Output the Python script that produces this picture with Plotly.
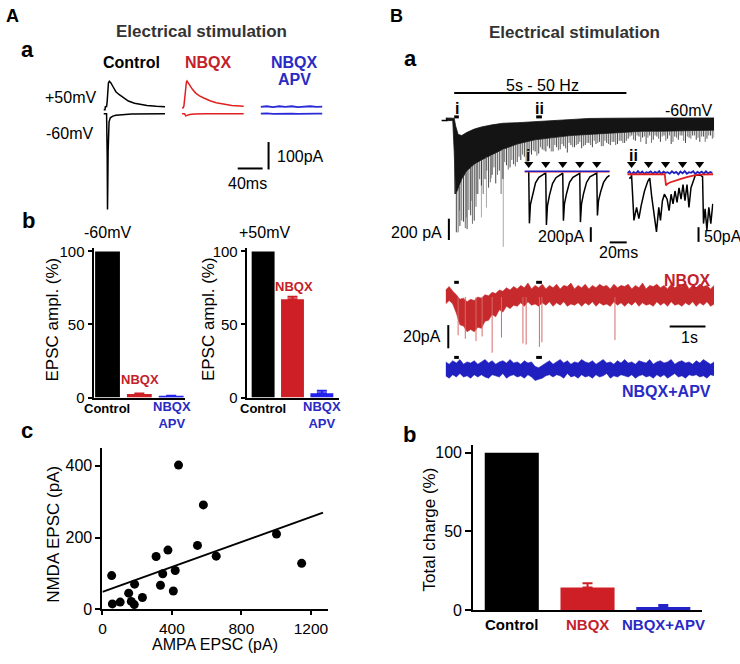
import plotly.graph_objects as go
import numpy as np

W, H = 740, 664
FONT = "Liberation Sans, Arial, Helvetica, sans-serif"
RED = "#cd1f25"
RED_TRACE = "#c62a2c"
RED_LIGHT = "#d86a6a"
BLUE = "#2323c8"
BLUE_BAR = "#2222ea"
BLUE_TRACE = "#2020c0"
RED_TEXT = "#c4212b"
BLUE_TEXT = "#2a2ac4"
GREY_TITLE = "#333333"

# ======================= DATA =======================
# A-a : example EPSCs (time ms, current pA relative to the -60 mV baseline)
CTRL_P50_T = [0, 2.5, 3, 5, 6, 7, 8, 9.5, 12, 15, 20, 25, 30, 40, 50, 60, 70, 85, 99]
CTRL_P50 = [14, 14, 25, 26, 45, 85, 112, 118, 112, 100, 80, 70, 62, 46, 38, 33, 30, 27, 25]
CTRL_M60_T = [0, 5, 6, 6.5, 7, 7.5, 8, 9, 11, 15, 20, 30, 45, 99]
CTRL_M60 = [0, 0, -150, -350, -260, -140, -70, -30, -15, -9, -6, -3, -1, 0]
NBQX_P50_T = [0, 2, 3, 4, 5, 6, 7, 8, 10, 13, 17, 22, 28, 35, 45, 55, 65, 80, 100]
NBQX_P50 = [22, 22, 28, 50, 80, 105, 115, 119, 112, 100, 88, 75, 65, 57, 47, 40, 35, 30, 27]
NBQX_M60_T = [0, 4, 6, 8, 12, 20, 40, 100]
NBQX_M60 = [0, 0, -8, -6, -3, -1, 0, 0]
APV_T = [0, 10, 20, 30, 40, 50, 60, 70, 80, 90, 100]
APV_P50 = [25, 27, 24, 27, 25, 27, 24, 26, 27, 25, 26]
APV_M60 = [0, 1, -1, 0, 1, 0, -1, 0, 1, 0, 0]

# A-b : normalised EPSC amplitude (%)
AB_CATS = ["Control", "NBQX", "NBQX APV"]
AB_M60 = [100, 2.5, 1.1]
AB_M60_ERR = [0, 0.3, 0.2]
AB_P50 = [100, 67.3, 2.9]
AB_P50_ERR = [0, 1.6, 1.8]

# c : NMDA vs AMPA EPSC (pA)
AMPA = [438, 581, 1002, 1147, 547, 655, 377, 309, 347, 419, 334, 408, 53, 185, 151, 230, 166, 183, 102, 57]
NMDA = [402, 291, 210, 128, 178, 148, 165, 147, 99, 108, 67, 51, 94, 70, 45, 33, 22, 13, 20, 15]
FIT_X = [0, 1270]

# B-a : 5 s - 50 Hz train (time s, current pA)
STIM_ON, STIM_OFF = 0.24, 5.05
WIN_I = [0.24, 0.37]
WIN_II = [2.53, 2.69]
GRID_T = [round(0.1 * k, 1) for k in range(76)]
GRID2_T = [round(0.05 + 0.1 * k, 2) for k in range(75)]
CORE_T = [0, 0.2, 0.24, 0.28, 0.35, 0.45, 0.6, 0.8, 1.0, 1.3, 1.6, 2.0, 2.5, 3.0, 3.5, 4.0,
          4.5, 5.0, 5.5, 6.0, 6.5, 7.0, 7.5]
CORE_HI = [15, 15, 12, -60, -140, -150, -120, -90, -70, -50, -35, -30, -20, -5, 5, 10,
           12, 15, 15, 15, 15, 15, 15]
CORE_LO = [-10, -10, -300, -700, -650, -560, -480, -420, -380, -330, -280, -230, -190, -170, -150, -140,
           -130, -120, -110, -110, -105, -100, -100]
CTRL_SPK = [-10, -15, -10, -1060, -1000, -960, -1030, -900, -950, -700,
            -620, -560, -640, -520, -600, -480, -560, -430, -450, -420,
            -400, -380, -350, -420, -330, -300, -320, -280, -300, -270,
            -300, -260, -280, -250, -310, -240, -260, -230, -270, -240,
            -220, -260, -230, -210, -250, -220, -240, -210, -230, -200,
            -220, -180, -150, -200, -160, -170, -230, -150, -190, -160,
            -210, -150, -180, -230, -160, -190, -150, -220, -170, -150,
            -190, -210, -160, -180, -150, -170]
CTRL_SPK2 = [-10, -12, -700, -1060, -950, -1020, -850, -980, -820, -560,
             -700, -480, -590, -450, -520, -700, -400, -470, -380, -440,
             -350, -330, -400, -310, -290, -340, -260, -290, -250, -300,
             -240, -290, -230, -270, -220, -260, -240, -210, -250, -220,
             -240, -200, -220, -250, -200, -230, -210, -240, -200, -220,
             -200, -160, -190, -150, -210, -160, -170, -220, -150, -180,
             -160, -200, -150, -210, -170, -150, -200, -160, -180, -150,
             -170, -160, -210, -150, -180]
LIGHT_T = [0.39, 0.58, 0.72, 0.86, 1.0, 1.14, 1.28, 1.61]
LIGHT_SPK = [-856, -920, -764, -700, -920, -828, -552, -1196]

# insets (time ms, current pA)
INSET_STIM = [5, 25, 45, 65, 85]
I_BLACK_T = [5, 5.8, 7, 9.5, 13, 17, 22, 25, 25.8, 27, 29.5, 33, 37, 42, 45, 45.8, 47, 49.5, 53, 57, 62,
             65, 65.8, 67, 69.5, 73, 77, 82, 85, 85.8, 87, 89.5, 93, 97, 100]
I_BLACK = [0, -707, -450, -307, -156, -80, -36, -20, -730, -470, -320, -165, -85, -40, -25, -670, -440,
           -300, -150, -80, -38, -25, -690, -450, -300, -150, -75, -35, -22, -600, -400, -280, -150, -80, -55]
I_RED_T = [0, 20, 40, 60, 80, 100]
I_RED = [-4, -3, -5, -3, -4, -3]
I_BLUE_T = [0, 25, 50, 75, 100]
I_BLUE = [1, 1, 0, 1, 1]
II_BLACK_T = [2, 4, 5, 7.8, 10.9, 13.6, 16.3, 20.2, 24.1, 26.4, 28.8, 31.1, 34.3, 37, 39, 41.3, 43.6,
              46.8, 49.1, 51.5, 53.8, 56.1, 58.5, 60.8, 63.2, 65.5, 67.8, 70.2, 72.5, 74.9, 77.2, 80,
              85.9, 88.5, 89.6, 91.5, 93.6, 95.9, 98.2, 100.5]
II_BLACK = [-15, -15, -5, -159, -115, -153, -109, -59, -26, -15, -81, -137, -198, -115, -159, -92, -70,
            -87, -126, -70, -103, -59, -98, -48, -87, -37, -92, -37, -115, -48, -26, -5,
            -5, -10, -170, -120, -192, -115, -170, -103]
II_RED_T = [0, 20, 44, 45.5, 47, 50, 52, 55, 60, 65, 70, 75, 80, 85, 90, 101]
II_RED = [-2, -1, -2, -40, -35, -30, -28, -24, -20, -16, -12, -8, -5, -3, -2, -2]
II_BLUE_T = [2.5 * k for k in range(41)]
II_BLUE = [2, 8, -2, 6, 0, 9, 1, 7, -1, 5, 3, 8, 0, 6, 2, 9, -1, 7, 3, 5, 0, 8, 2, 6, -2, 7, 1, 9, 0, 5,
           3, 8, -1, 6, 2, 7, 0, 8, 1, 6, 3]

# NBQX trace (pA), envelope per 0.1 s
RED_HI = [6, 9, 5, 2, -2, -1, -4, -2, -3, 0,
          -1, 2, 1, 4, 3, 6, 5, 8, 6, 9,
          7, 10, 8, 12, 7, 10, 8, 11, 7, 10,
          8, 11, 7, 10, 9, 12, 7, 10, 8, 11,
          7, 10, 8, 11, 9, 10, 7, 11, 8, 10,
          9, 11, 7, 10, 8, 12, 7, 10, 9, 11,
          8, 10, 7, 11, 8, 10, 9, 12, 7, 10,
          8, 11, 9, 10, 7, 10]
RED_LO = [-6, -3, -6, -14, -24, -25, -30, -28, -30, -26,
          -27, -21, -20, -15, -17, -11, -13, -8, -10, -7,
          -8, -5, -8, -4, -7, -6, -8, -5, -7, -4,
          -8, -5, -7, -4, -8, -6, -7, -5, -8, -5,
          -7, -4, -8, -5, -7, -6, -8, -4, -7, -5,
          -8, -5, -7, -4, -8, -5, -7, -6, -8, -4,
          -7, -5, -8, -4, -7, -6, -8, -5, -7, -4,
          -8, -5, -7, -4, -8, -6]
RED_SPK_T = [0.35, 0.55, 0.85, 1.02, 1.30, 1.56, 2.16, 2.25, 2.62, 2.69, 4.73]
RED_SPK = [-33, -36, -38, -34, -48, -35, -40, -41, -43, -39, -37]
# NBQX+APV trace (pA), envelope per 0.1 s
BLUE_HI = [6, 4, 7, 5, 8, 4, 6, 5, 7, 4,
           6, 8, 5, 7, 4, 6, 7, 5, 8, 5,
           6, 4, 7, 5, 6, 2, 1, 3, 5, 7,
           4, 6, 8, 5, 7, 4, 6, 5, 8, 6,
           5, 7, 4, 6, 8, 5, 6, 4, 7, 5,
           8, 5, 6, 4, 7, 6, 5, 8, 4, 6,
           7, 5, 6, 8, 4, 6, 7, 5, 6, 4,
           7, 5, 8, 6, 4, 6]
BLUE_LO = [-6, -8, -5, -7, -4, -7, -6, -8, -5, -7,
           -5, -7, -8, -5, -6, -7, -4, -8, -6, -5,
           -7, -6, -8, -5, -7, -10, -9, -8, -6, -5,
           -7, -5, -6, -8, -4, -7, -6, -8, -5, -7,
           -6, -8, -5, -7, -6, -4, -8, -6, -7, -5,
           -6, -7, -5, -8, -6, -5, -7, -6, -8, -5,
           -7, -5, -8, -6, -4, -7, -6, -8, -5, -6,
           -5, -7, -6, -8, -5, -6]

# B-b : total charge (%)
BB_CATS = ["Control", "NBQX", "NBQX+APV"]
BB_VALS = [100, 14.5, 2.0]
BB_ERR = [0, 2.6, 1.4]

# ======================= AXES =======================
AX = {}


def define_axis(name, idx, xpx, ypx, xr, yr):
    AX[name] = dict(idx=idx, xpx=xpx, ypx=ypx, xr=xr, yr=yr)


def suf(name):
    i = AX[name]["idx"]
    return "" if i == 1 else str(i)


def px_x(name, v):
    a = AX[name]
    return a["xpx"][0] + (v - a["xr"][0]) / (a["xr"][1] - a["xr"][0]) * (a["xpx"][1] - a["xpx"][0])


def sx(name):
    a = AX[name]
    return (a["xpx"][1] - a["xpx"][0]) / (a["xr"][1] - a["xr"][0])


def sy(name):
    a = AX[name]
    return (a["ypx"][1] - a["ypx"][0]) / (a["yr"][1] - a["yr"][0])


def val_y(name, py):
    a = AX[name]
    return a["yr"][0] + (a["ypx"][1] - py) / sy(name)


AA_YR = [-(215 - 111) / 0.28, (111 - 70) / 0.28]
define_axis("ctrl", 1, [100, 162], [70, 215], [0, 99.2], AA_YR)
define_axis("nbqx", 2, [179, 241], [70, 215], [0, 99.2], AA_YR)
define_axis("apv", 3, [258, 320], [70, 215], [0, 99.2], AA_YR)
define_axis("abL", 4, [90, 182], [248, 401], [-0.44, 2.435], [0, 102.5])
define_axis("abR", 5, [244, 337], [248, 401], [-0.56, 2.59], [0, 102.5])
define_axis("sc", 6, [99, 326], [452.4, 617.3], [0, 1300], [0, 450])
define_axis("main", 7, [444, 714], [80, 252], [0, 7.5], [-(252 - 117) * 9.2, (117 - 80) * 9.2])
define_axis("ins1", 8, [523.3, 610], [158, 248], [0, 101.4], [-(248 - 170) * 13.33, (170 - 158) * 13.33])
define_axis("ins2", 9, [626.7, 713.3], [158, 250], [0, 101.3], [-(250 - 172.3) * 3.333, (172.3 - 158) * 3.333])
define_axis("red", 10, [444, 714], [278, 362], [0, 7.5], [-(362 - 298.3) / 1.185, (298.3 - 278) / 1.185])
define_axis("blue", 11, [444, 714], [352, 392], [0, 7.5], [-(392 - 371.7) / 1.185, (371.7 - 352) / 1.185])
define_axis("bb", 12, [471.7, 701.7], [449.3, 618.3], [-0.51, 2.51], [0, 105])

layout = dict(
    width=W, height=H, margin=dict(l=0, r=0, t=0, b=0),
    paper_bgcolor="white", plot_bgcolor="rgba(0,0,0,0)",
    showlegend=False, barmode="overlay",
    font=dict(family=FONT, color="black"),
)
for name, a in AX.items():
    s = suf(name)
    layout["xaxis" + s] = dict(domain=[a["xpx"][0] / W, a["xpx"][1] / W], range=a["xr"],
                               anchor="y" + s, visible=False, fixedrange=True)
    layout["yaxis" + s] = dict(domain=[1 - a["ypx"][1] / H, 1 - a["ypx"][0] / H], range=a["yr"],
                               anchor="x" + s, visible=False, fixedrange=True)

AXSTYLE = dict(visible=True, showline=True, linecolor="black", linewidth=2, showgrid=False,
               zeroline=False, ticks="outside", tickcolor="black", tickwidth=2)
for nm in ("abL", "abR"):
    s = suf(nm)
    layout["xaxis" + s].update(AXSTYLE, ticks="", showticklabels=False)
    layout["yaxis" + s].update(AXSTYLE, tickvals=[0, 50, 100], ticklen=4,
                               tickfont=dict(size=15, family=FONT, color="black"))
s = suf("sc")
layout["xaxis" + s].update(AXSTYLE, tickvals=[0, 400, 800, 1200], ticklen=4,
                           tickfont=dict(size=15.5, family=FONT, color="black"))
layout["yaxis" + s].update(AXSTYLE, tickvals=[0, 200, 400], ticklen=5,
                           tickfont=dict(size=16, family=FONT, color="black"))
s = suf("bb")
layout["xaxis" + s].update(AXSTYLE, ticks="", showticklabels=False)
layout["yaxis" + s].update(AXSTYLE, tickvals=[0, 50, 100], ticklen=6,
                           tickfont=dict(size=16, family=FONT, color="black"))

fig = go.Figure()


def on(name):
    s = suf(name)
    return dict(xaxis="x" + s, yaxis="y" + s, showlegend=False, hoverinfo="skip")


def line(name, x, y, color, width=1.5):
    fig.add_trace(go.Scatter(x=x, y=y, mode="lines", line=dict(color=color, width=width), **on(name)))


def band(name, t, lo, hi, color, lw=0.8):
    fig.add_trace(go.Scatter(x=t, y=lo, mode="lines", line=dict(color=color, width=lw), **on(name)))
    fig.add_trace(go.Scatter(x=t, y=hi, mode="lines", fill="tonexty", fillcolor=color,
                             line=dict(color=color, width=lw), **on(name)))


def spikes(name, t, v, color, width=1.0, base_t=None, base_v=None):
    """vertical deflections drawn from the band edge (or 0) down to each value"""
    xs, ys = [], []
    for ti, vi in zip(t, v):
        top = float(np.interp(ti, base_t, base_v)) if base_t is not None else 0
        xs += [ti, ti, None]
        ys += [top, vi, None]
    fig.add_trace(go.Scatter(x=xs, y=ys, mode="lines", line=dict(color=color, width=width), **on(name)))


# ---- A-a
line("ctrl", CTRL_P50_T, CTRL_P50, "black")
line("ctrl", CTRL_M60_T, CTRL_M60, "black")
line("nbqx", NBQX_P50_T, NBQX_P50, "#e0201e")
line("nbqx", NBQX_M60_T, NBQX_M60, "#e0201e")
line("apv", APV_T, APV_P50, "#2a2ad8", 1.8)
line("apv", APV_T, APV_M60, "#2a2ad8", 1.8)

# ---- bars
BAR_COLORS_A = ["black", RED, BLUE_BAR]


def bars(name, vals, errs, colors, width):
    for i, (v, e, c) in enumerate(zip(vals, errs, colors)):
        fig.add_trace(go.Bar(x=[i], y=[v], width=width, marker=dict(color=c, line=dict(width=0)),
                             error_y=dict(type="data", array=[e], arrayminus=[0], symmetric=False,
                                          visible=e > 0, color=c, thickness=2, width=5),
                             **on(name)))


bars("abL", AB_M60, AB_M60_ERR, BAR_COLORS_A, 0.78)
bars("abR", AB_P50, AB_P50_ERR, BAR_COLORS_A, 0.78)
bars("bb", BB_VALS, BB_ERR, ["black", RED, BLUE], 0.714)

# ---- c scatter + regression
slope, icpt = np.polyfit(AMPA, NMDA, 1)
fig.add_trace(go.Scatter(x=FIT_X, y=[icpt + slope * v for v in FIT_X], mode="lines",
                         line=dict(color="black", width=2), **on("sc")))
fig.add_trace(go.Scatter(x=AMPA, y=NMDA, mode="markers", marker=dict(color="black", size=9),
                         cliponaxis=False, **on("sc")))

# ---- B-a main trace
band("main", CORE_T, CORE_LO, CORE_HI, "#141414")
spikes("main", LIGHT_T, LIGHT_SPK, "#a8a8a8", 1.0, CORE_T, CORE_LO)
spikes("main", GRID2_T, CTRL_SPK2, "#333333", 0.7, CORE_T, CORE_LO)
spikes("main", GRID_T, CTRL_SPK, "#1a1a1a", 0.8, CORE_T, CORE_LO)

# insets
line("ins1", I_BLACK_T, I_BLACK, "black", 1.5)
line("ins1", I_RED_T, I_RED, "#e02020", 1.5)
line("ins1", I_BLUE_T, I_BLUE, BLUE_TRACE, 1.5)
line("ins2", II_BLACK_T, II_BLACK, "black", 1.5)
line("ins2", II_BLUE_T, II_BLUE, BLUE_TRACE, 1.8)
line("ins2", II_RED_T, II_RED, "#e02020", 1.8)
for nm in ("ins1", "ins2"):
    fig.add_trace(go.Scatter(x=INSET_STIM, y=[val_y(nm, 162.5)] * len(INSET_STIM), mode="markers",
                             marker=dict(symbol="triangle-down", size=8, color="black"),
                             cliponaxis=False, **on(nm)))

# NBQX / NBQX+APV traces
band("red", GRID_T, RED_LO, RED_HI, RED_TRACE, 0.6)
spikes("red", RED_SPK_T, RED_SPK, RED_LIGHT, 1.0)
band("blue", GRID_T, BLUE_LO, BLUE_HI, BLUE_TRACE, 0.6)

# ======================= SHAPES / TEXT =======================
shapes = []


def pline(x0, y0, x1, y1, w=2, color="black"):
    shapes.append(dict(type="line", xref="paper", yref="paper", x0=x0 / W, x1=x1 / W,
                       y0=1 - y0 / H, y1=1 - y1 / H, line=dict(color=color, width=w)))


pline(266, 140, 266, 140 + 100 * sy("ctrl"))
pline(235, 167, 235 + 40 * sx("ctrl"), 167)
pline(px_x("main", STIM_ON), 90, px_x("main", STIM_OFF), 90)
for win in (WIN_I, WIN_II):
    for py in (114.3, 283.3, 360):
        pline(px_x("main", win[0]), py, px_x("main", win[1]), py, 3)
pline(440, 118, 446, 118, 1.5)
pline(447.3, 218.3, 447.3, 218.3 + 200 * sy("main"))
pline(590, 227, 590, 227 + 200 * sy("ins1"))
pline(609, 242.5, 609 + 20 * sx("ins1"), 242.5)
pline(698.3, 227, 698.3, 227 + 50 * sy("ins2"))
pline(446.7, 327, 446.7, 327 + 20 * sy("red"))
pline(669.3, 328.3, 669.3 + 1 * sx("red"), 328.3)

annots = []


def txt(x, y, s, size=16, color="black", bold=False, xa="center", angle=0):
    if bold:
        s = "<b>" + s + "</b>"
    annots.append(dict(x=x / W, y=1 - y / H, xref="paper", yref="paper", text=s, showarrow=False,
                       xanchor=xa, yanchor="middle", textangle=angle,
                       font=dict(size=size, color=color, family=FONT)))


# panel A
txt(9, 11, "A", 18, bold=True)
txt(199, 27, "Electrical stimulation", 17, GREY_TITLE, True)
txt(24, 45, "a", 22, bold=True)
txt(128, 59, "Control", 16, bold=True)
txt(206, 59, "NBQX", 16, RED_TEXT, True)
txt(292.5, 59, "NBQX", 16, BLUE_TEXT, True)
txt(292.5, 76, "APV", 16, BLUE_TEXT, True)
txt(95, 95, "+50mV", 16, xa="right")
txt(91, 131.5, "-60mV", 16, xa="right")
txt(272, 155, "100pA", 16, xa="left")
txt(245, 182, "40ms", 16)
txt(25, 220, "b", 22, bold=True)
txt(104, 232.5, "-60mV", 16)
txt(262, 232.5, "+50mV", 16)
txt(48.5, 321, "EPSC ampl. (%)", 17, angle=-90)
txt(205, 321, "EPSC ampl. (%)", 17, angle=-90)
txt(137, 382.5, "NBQX", 13, RED_TEXT, True)
txt(291.7, 287.5, "NBQX", 13, RED_TEXT, True)
txt(103.5, 412, "Control", 13, bold=True)
txt(169, 418.5, "NBQX<br>APV", 13, BLUE_TEXT, True)
txt(260, 412, "Control", 13, bold=True)
txt(319.5, 418.5, "NBQX<br>APV", 13, BLUE_TEXT, True)
txt(23.5, 434.5, "c", 22, bold=True)
txt(49.5, 541, "NMDA EPSC (pA)", 17, angle=-90)
txt(211.7, 653, "AMPA EPSC (pA)", 16)

# panel B
txt(395, 11, "B", 18, bold=True)
txt(574, 28.5, "Electrical stimulation", 17, GREY_TITLE, True)
txt(408.5, 55, "a", 22, bold=True)
txt(541.7, 82.5, "5s - 50 Hz", 16)
txt(714, 107.5, "-60mV", 16, xa="right")
txt(px_x("main", sum(WIN_I) / 2), 106, "i", 16, bold=True)
txt(px_x("main", sum(WIN_II) / 2), 106, "ii", 16, bold=True)
txt(442.7, 232, "200 pA", 16, xa="right")
txt(527, 154, "i", 16, bold=True)
txt(632.5, 154, "ii", 16, bold=True)
txt(586, 236, "200pA", 16, xa="right")
txt(617.5, 253, "20ms", 16)
txt(701.7, 236, "50pA", 16, xa="left")
txt(713, 281, "NBQX", 16, RED_TEXT, True, xa="right")
txt(441.7, 339, "20pA", 16, xa="right")
txt(689, 340, "1s", 16)
txt(713, 395, "NBQX+APV", 16, BLUE_TEXT, True, xa="right")
txt(408, 438.5, "b", 22, bold=True)
txt(428, 536, "Total charge (%)", 17, angle=-90)
for i, (lab, col) in enumerate(zip(BB_CATS, ["black", RED_TEXT, BLUE_TEXT])):
    txt(px_x("bb", i), 632.5, lab, 15, col, True)

layout["shapes"] = shapes
layout["annotations"] = annots
fig.update_layout(**layout)
fig.write_html("out.html", config={"displayModeBar": False},
               post_script="document.body.style.margin='0';document.body.style.overflow='hidden';")
